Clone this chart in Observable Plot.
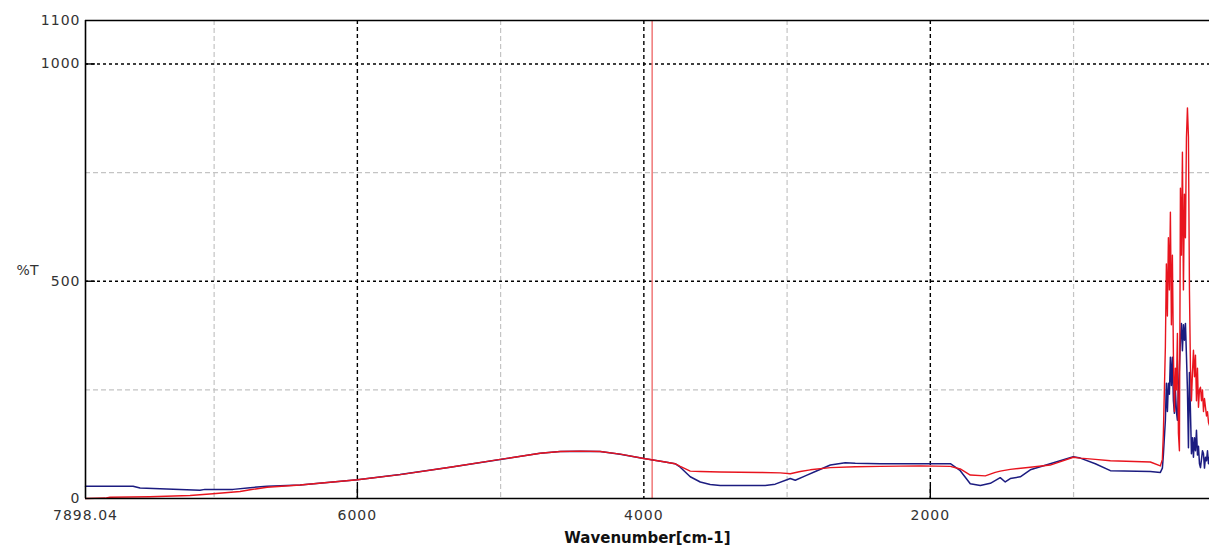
<!DOCTYPE html>
<html><head><meta charset="utf-8">
<script src="https://cdn.jsdelivr.net/npm/d3@7"></script>
<script src="https://cdn.jsdelivr.net/npm/@observablehq/plot@0.6"></script>
<style>
body{margin:0;background:#fff;}
#chart svg{display:block;}
g[aria-label="x-axis tick label"] text, g[aria-label="y-axis tick label"] text{letter-spacing:1px;}
</style></head><body><div id="chart"></div>
<script>
// Blue spectrum: wavenumber (cm-1) and %T
const blueWn = [7898,7566,7517,7099,7064,6868,6749,6630,6400,6000,5702,5353,5003,4724,4584,4445,4305,4165,4000,3851,3782,3746,3676,3606,3537,3467,3153,3083,2978,2943,2873,2803,2698,2594,2524,2349,2070,1860,1791,1721,1651,1581,1512,1477,1442,1372,1302,1163,1002,953,848,743,464,394,380,
  373,359,352,345,338,331,324,317,310,303,296,289,282,275,268,261,254,247,240,233,226,219,212,205,198,191,184,177,170,163,156,149,142,135,128,121,114,107,100,93,86,79,72,65,58,51];
const blueT = [28,28,24,19,21,21,25,28,31,43,55,72,90,104,108,109,108,102,92,84,80,72,50,38,32,30,30,33,46,42,52,62,77,82,81,80,80,80,64,34,30,35,48,38,46,50,66,80,96,93,80,64,62,60,70,
  100,180,265,200,265,240,325,260,325,225,196,249,200,180,250,300,364,403,340,400,364,403,330,250,117,290,200,103,140,95,140,110,157,100,120,80,71,90,110,103,70,95,87,110,80,95];
// Red spectrum
const redWn = [7898,7762,7727,7448,7168,7008,6819,6749,6630,6400,6000,5702,5353,5003,4724,4584,4445,4305,4165,4000,3851,3782,3746,3676,3606,3467,3188,3048,2978,2908,2838,2698,2524,2349,2070,1860,1791,1721,1616,1547,1512,1442,1302,1163,1002,953,848,743,464,394,380,
  373,359,352,345,338,331,324,317,310,303,296,289,282,275,268,261,254,247,240,233,226,219,212,205,198,191,184,177,170,163,156,149,142,135,128,121,114,107,100,93,86,79,72,65,58,51];
const redT = [0,1,3,4,7,11,16,20,26,31,43,55,72,90,104,108,109,108,102,92,84,80,74,63,62,61,60,59,57,62,66,71,73,74,75,74,68,54,52,60,63,67,72,77,95,93,90,87,84,75,90,
  150,350,540,420,600,480,659,400,560,330,200,300,250,380,150,110,714,560,797,480,700,600,830,899,832,480,300,225,290,341,280,330,225,300,210,250,256,225,250,200,230,210,190,200,175,168];

const xTicks = [7898.04, 6000, 4000, 2000];
const yTicks = [0, 500, 1000, 1100];
const majorX = [6000, 4000, 2000];
const minorX = [7000, 5000, 3000, 1000];
const majorY = [500, 1000];
const minorY = [250, 750];
const markerWn = 3942;
const xDomain = [7898.04, 51];
const yDomain = [0, 1100];

const blue = blueWn.map((w, i) => ({w, t: blueT[i]}));
const red = redWn.map((w, i) => ({w, t: redT[i]}));

const chart = Plot.plot({
  width: 1209,
  height: 550,
  marginLeft: 85,
  marginRight: 0,
  marginTop: 20,
  marginBottom: 52,
  style: {fontFamily: "DejaVu Sans", fontSize: "14px", color: "#333", background: "#fff", overflow: "visible"},
  x: {domain: xDomain, axis: null},
  y: {domain: yDomain, axis: null},
  marks: [
    Plot.ruleX(minorX, {stroke: "#c4c4c4", strokeWidth: 1.2, strokeDasharray: "5,3"}),
    Plot.ruleY(minorY, {stroke: "#c4c4c4", strokeWidth: 1.2, strokeDasharray: "5,3"}),
    Plot.ruleX(majorX, {stroke: "#000", strokeWidth: 1.4, strokeDasharray: "4,3"}),
    Plot.ruleY(majorY, {stroke: "#000", strokeWidth: 1.4, strokeDasharray: "3,3"}),
    Plot.ruleX([6000, 2000], {y1: 0, y2: 28, stroke: "#000", strokeWidth: 1.4}),
    Plot.ruleY(majorY, {x1: 7898.04, x2: 7828, stroke: "#000", strokeWidth: 1.4}),
    Plot.ruleX([markerWn], {stroke: "#f07878", strokeWidth: 1.5}),
    Plot.line(blue, {x: "w", y: "t", stroke: "#1c1c80", strokeWidth: 1.5}),
    Plot.line(red, {x: "w", y: "t", stroke: "#e8141e", strokeWidth: 1.4}),
    Plot.ruleX([7898.04], {stroke: "#000", strokeWidth: 1.6}),
    Plot.ruleY([0, 1100], {stroke: "#000", strokeWidth: 1.6}),
    Plot.axisX(xTicks, {tickSize: 0, tickPadding: 12, tickFormat: d => d === 7898.04 ? "7898.04" : String(d), fontSize: 14, fill: "#333", label: null}),
    Plot.axisY(yTicks, {tickSize: 0, tickPadding: 5, tickFormat: d => String(d), fontSize: 14, fill: "#333", label: null}),
    Plot.text(["%T"], {frameAnchor: "left", dx: -58, dy: 11, fontSize: 14, fill: "#333", textAnchor: "middle"}),
    Plot.text(["Wavenumber[cm-1]"], {frameAnchor: "bottom", dy: 44, fontSize: 15, fontWeight: "bold", fill: "#111"})
  ]
});
document.getElementById("chart").append(chart);
</script>
</body></html>
